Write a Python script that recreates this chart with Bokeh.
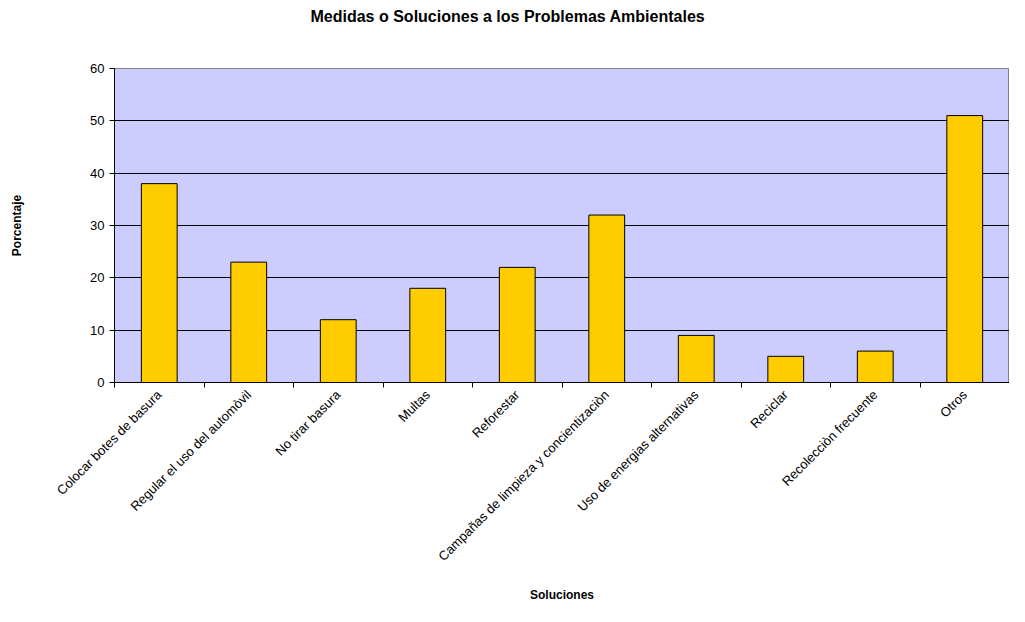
import math
from bokeh.plotting import figure
from bokeh.models import FixedTicker, Range1d, ColumnDataSource, Title
from bokeh.embed import file_html
from bokeh.resources import INLINE

title_text = "Medidas o Soluciones a los Problemas Ambientales"
categories = ["Colocar botes de basura", "Regular el uso del automòvil", "No tirar basura",
              "Multas", "Reforestar", "Campañas de limpieza y concientizaciòn",
              "Uso de energias alternativas", "Reciclar", "Recolecciòn frecuente", "Otros"]
values = [38, 23, 12, 18, 22, 32, 9, 5, 6, 51]
y_ticks = [0, 10, 20, 30, 40, 50, 60]

n = len(categories)
centers = [i + 0.5 for i in range(n)]
bounds = [i for i in range(n + 1)]

src = ColumnDataSource(dict(x=centers, top=values))

FONT = "Liberation Sans"

p = figure(width=1009, height=606, output_backend="svg", toolbar_location=None,
           x_range=Range1d(0, n), y_range=Range1d(0, 60), title=None,
           min_border_left=114, min_border_right=0, min_border_top=68, min_border_bottom=224)

p.background_fill_color = "#CCCCFF"
p.border_fill_color = "white"
p.outline_line_color = "#808080"

p.vbar(x="x", top="top", width=0.4, bottom=0, source=src,
       fill_color="#FFCC00", line_color="black", line_width=1)

# spacer between frame and title, then the title itself
p.add_layout(Title(text=" ", standoff=40, text_font_size="2px"), "above")
p.add_layout(Title(text=title_text, align="left", offset=196, standoff=0,
                   text_font=FONT, text_font_size="16px", text_font_style="bold",
                   text_color="black"), "above")

# x axis
xa = p.xaxis[0]
xa.ticker = FixedTicker(ticks=centers, minor_ticks=bounds)
xa.major_label_overrides = {c: lab for c, lab in zip(centers, categories)}
xa.major_label_orientation = math.pi / 4
xa.major_tick_out = 0
xa.major_tick_in = 0
xa.minor_tick_out = 5
xa.minor_tick_in = 0
xa.minor_tick_line_color = "black"
xa.axis_line_color = "black"
xa.major_label_text_font = FONT
xa.major_label_text_font_size = "13px"
xa.major_label_text_color = "black"
xa.axis_label = "Soluciones"
xa.axis_label_text_font = FONT
xa.axis_label_text_font_size = "12px"
xa.axis_label_text_font_style = "bold"
xa.axis_label_text_color = "black"
xa.axis_label_standoff = 16

# y axis
ya = p.yaxis[0]
ya.ticker = FixedTicker(ticks=y_ticks)
ya.major_tick_out = 5
ya.major_tick_in = 0
ya.minor_tick_out = 0
ya.minor_tick_in = 0
ya.axis_line_color = "black"
ya.major_tick_line_color = "black"
ya.major_label_text_font = FONT
ya.major_label_text_font_size = "13px"
ya.major_label_text_color = "black"
ya.major_label_standoff = 5
ya.axis_label = "Porcentaje"
ya.axis_label_text_font = FONT
ya.axis_label_text_font_size = "12px"
ya.axis_label_text_font_style = "bold"
ya.axis_label_text_color = "black"
ya.axis_label_standoff = 63

p.xgrid.grid_line_color = None
p.ygrid.grid_line_color = "black"
p.ygrid.grid_line_width = 1
p.ygrid.ticker = FixedTicker(ticks=y_ticks)

open("out.html", "w").write(file_html(p, INLINE))
